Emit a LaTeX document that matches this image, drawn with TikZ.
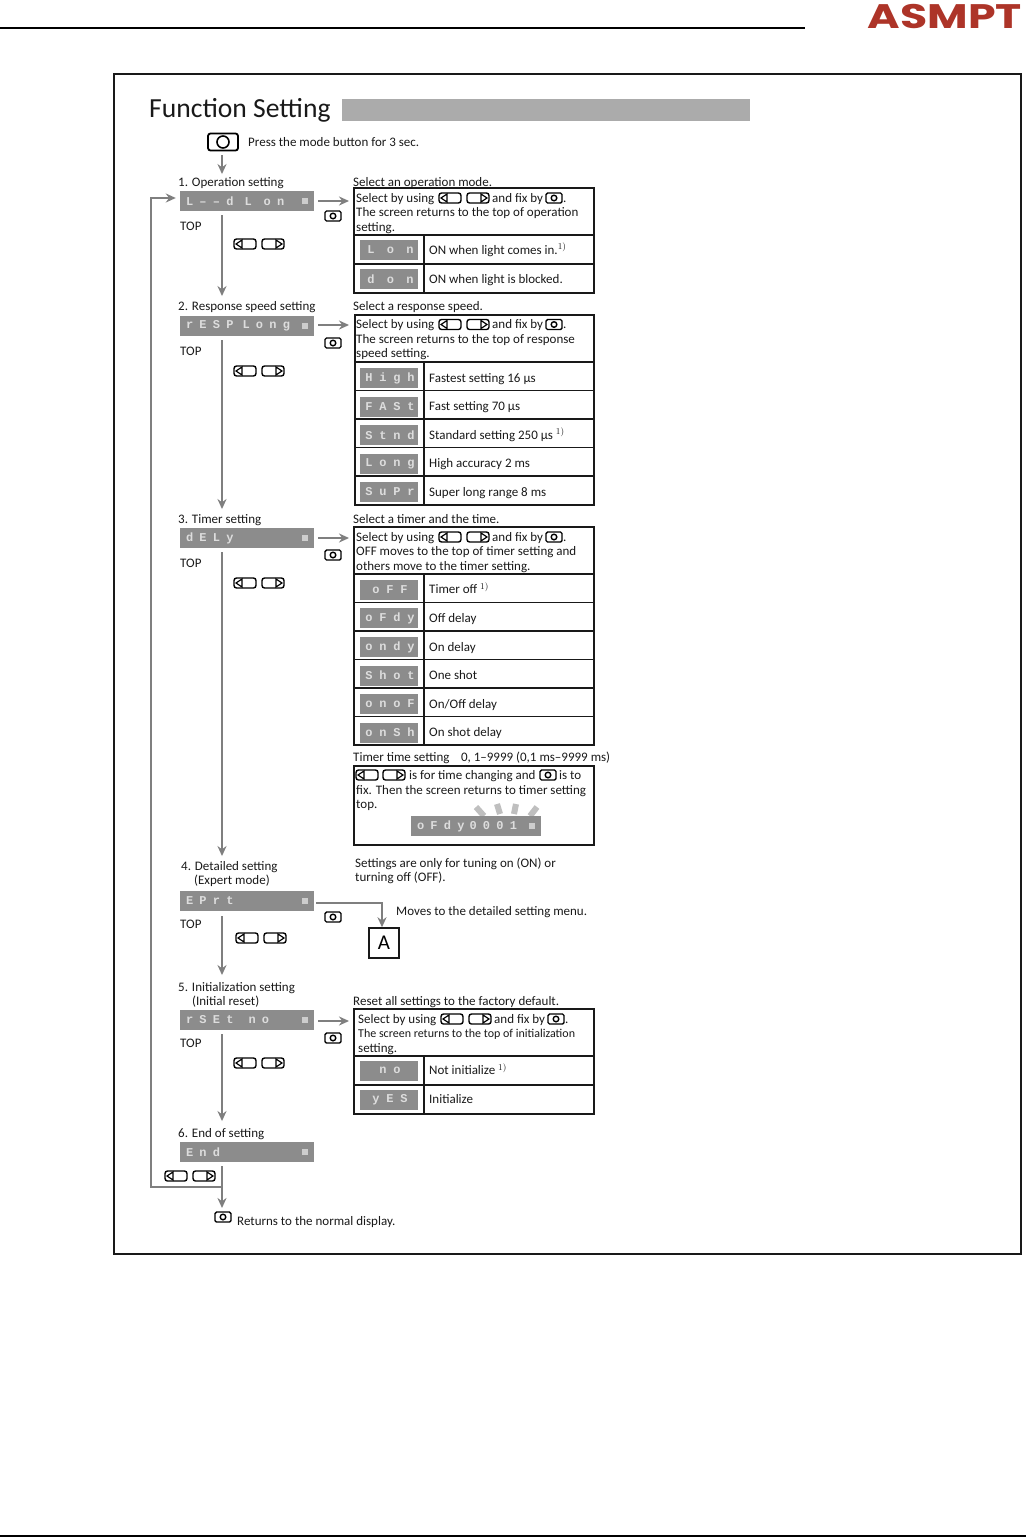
\documentclass[tikz,border=0pt]{standalone}
\usepackage{fontspec}
\setmainfont{Carlito}
\newfontfamily\dispfont[LetterSpace=52]{Liberation Mono}
\newfontfamily\rowfont[LetterSpace=57]{Liberation Mono}
\newfontfamily\widefont[LetterSpace=103]{Liberation Mono}
\newfontfamily\logofont{Poppins}
\usetikzlibrary{arrows.meta}
\definecolor{dispgray}{HTML}{8C8C8C}
\definecolor{flowgray}{HTML}{7F7F7F}
\definecolor{dispink}{HTML}{DDDDDD}
\definecolor{logored}{HTML}{AD3428}
\begin{document}
\begin{tikzpicture}[
    x=1pt, y=-1pt,
    txt/.style={anchor=west, inner sep=0pt, text height=11pt, text depth=2.5pt,
                font=\fontsize{13}{15}\selectfont, text=black!90},
    disp/.style={fill=dispgray, text=dispink, minimum width=134pt, minimum height=20pt,
                 inner sep=0pt, inner xsep=6pt, text width=122pt, align=left,
                 font=\dispfont\bfseries\fontsize{12}{14}\selectfont},
    disprow/.style={fill=dispgray, text=dispink, minimum width=58pt, minimum height=20pt,
                 inner sep=0pt, font=\rowfont\bfseries\fontsize{12}{14}\selectfont},
    dispwide/.style={disprow, font=\widefont\bfseries\fontsize{12}{14}\selectfont},
    dispdot/.style={fill=dispink!80!dispgray, minimum size=6pt, inner sep=0pt},
    flow/.style={-{Stealth[length=10pt,width=9pt]}, line width=2.5pt, color=flowgray},
    tab/.style={draw=black!90, line width=1.5pt},
    keymode/.pic={
      \draw[line width=1.4pt, rounded corners=1.5pt] (-8,-5) rectangle (8,5);
      \draw[line width=1.4pt] (0,0) circle (2.8pt);
    },
    keyleft/.pic={
      \draw[line width=1.4pt, rounded corners=2.5pt] (-11,-5) rectangle (11,5);
      \draw[line width=1.2pt, fill=white] (-3,-4) -- (-9,0) -- (-3,4) -- cycle;
    },
    keyright/.pic={
      \draw[line width=1.4pt, rounded corners=2.5pt] (-11,-5) rectangle (11,5);
      \draw[line width=1.2pt, fill=white] (3,-4) -- (9,0) -- (3,4) -- cycle;
    }
  ]
  \useasboundingbox (0,0) rectangle (1026,1537);
  \coordinate (vx) at (222,0);
  % Page furniture
  \coordinate (ruleA) at (0,28);
  \coordinate (ruleB) at (805,28);
  \coordinate (ruleC) at (0,1536);
  \coordinate (ruleD) at (1026,1536);
  \draw[line width=2pt] (ruleA) -- (ruleB);
  \draw[line width=2pt] (ruleC) -- (ruleD);
  \node[inner sep=0pt, text=logored, xscale=1.3, font=\logofont\bfseries\fontsize{34}{34}\selectfont]
    (logo) at (945,17) {ASMPT};
  \draw[line width=2pt, draw=black!90] (114,74) rectangle (1021,1254);
  % Title
  \node[txt, text height=20pt, text depth=6pt, font=\fontsize{27.6}{30}\selectfont] (title) at (149,110) {Function Setting};
  \fill[black!33] (342,99) rectangle (750,121);
  % Mode button and start
  \node[draw, line width=1.8pt, rounded corners=2.5pt, minimum width=30pt, minimum height=17pt, inner sep=0pt]
    (bigkey) at (223,142) {};
  \node[draw, circle, line width=1.6pt, minimum size=12pt, inner sep=0pt] (bigdot) at (bigkey) {};
  \node[txt] (press) at (248,142) {Press the mode button for 3 sec.};
  % Step labels
  \foreach \name/\xpos/\ypos/\lab in {
      labOne/178/182/{1. Operation setting}, labTwo/178/306/{2. Response speed setting},
      labThree/178/519/{3. Timer setting}, labFour/181/866/{4. Detailed setting},
      labFourB/194/880/{(Expert mode)}, labFive/178/987/{5. Initialization setting},
      labFiveB/192/1001/{(Initial reset)}, labSix/178/1133/{6. End of setting}}{
    \node[txt] (\name) at (\xpos,\ypos) {\lab};
  }
  % Main displays
  \foreach \name/\ypos/\disptext in {
      dOne/201/{L––d\kern11pt L\kern12pt on}, dTwo/326/{rESP\kern9pt Long}, dThree/538/{dELy},
      dFour/901/{EPrt}, dFive/1020/{rSEt\kern15pt no}, dSix/1152/{End}}{
    \node[disp] (\name) at (247,\ypos) {\disptext};
    \node[dispdot] (\name dot) at (304.5,\ypos) {};
  }
  % TOP marks
  \foreach \name/\ypos in {topOne/226, topTwo/351, topThree/563, topFour/924, topFive/1043}{
    \node[txt] (\name) at (180,\ypos) {TOP};
  }
  % Vertical flow
  \draw[flow] ([yshift=-4pt]bigkey.south -| vx) -- ([yshift=1pt]labOne.north -| vx);
  \draw[flow] ([yshift=-4pt]dOne.south -| vx) -- ([yshift=3pt]labTwo.north -| vx);
  \draw[flow] ([yshift=-4pt]dTwo.south -| vx) -- ([yshift=3pt]labThree.north -| vx);
  \draw[flow] ([yshift=-4pt]dThree.south -| vx) -- ([yshift=3pt]labFour.north -| vx);
  \draw[flow] ([yshift=-5pt]dFour.south -| vx) -- ([yshift=5pt]labFive.north -| vx);
  \draw[flow] ([yshift=-4pt]dFive.south -| vx) -- ([yshift=5pt]labSix.north -| vx);
  % Return and loop back
  \node[txt] (back) at (237,1221) {Returns to the normal display.};
  \coordinate (retEnd) at (222,1208);
  \coordinate (loopA) at (222,1187);
  \coordinate (loopB) at (151,1187);
  \coordinate (loopC) at (151,198);
  \draw[flow] ([yshift=-4pt]dSix.south -| vx) -- (retEnd);
  \draw[flow] (loopA) -- (loopB) -- (loopC) -- ([xshift=-4pt,yshift=3pt]dOne.west);
  % Right flow
  \foreach \src/\ypos in {dOne/201, dTwo/325, dThree/538, dFive/1021}{
    \coordinate (\src end) at (349,\ypos);
    \draw[flow] ([xshift=4pt]\src.east |- \src end) -- (\src end);
  }
  \node[draw=black!90, line width=1.5pt, minimum size=30pt, inner sep=0pt, font=\fontsize{21}{24}\selectfont] (boxA) at (384,943) {A};
  \coordinate (elbow) at (382,903);
  \draw[flow] ([xshift=2pt]dFour.east |- elbow) -- (elbow) -- (elbow |- boxA.north);
  \node[txt] (moves) at (396,911) {Moves to the detailed setting menu.};
  % Keys
  \foreach \xpos/\ypos in {245/244, 245/371, 245/583, 247/938, 245/1063, 176/1176}{
    \pic at (\xpos,\ypos) {keyleft};
    \pic at (\xpos+28,\ypos) {keyright};
  }
  \foreach \xpos/\ypos in {333/216, 333/343, 333/555, 333/917, 333/1038, 223/1217}{
    \pic at (\xpos,\ypos) {keymode};
  }
  % Headings right
  \foreach \name/\xpos/\ypos/\lab in {
      selOne/353/182/{Select an operation mode.}, selTwo/353/306/{Select a response speed.},
      selThree/353/519/{Select a timer and the time.},
      selFour/353/757/{Timer time setting\enspace\, 0, 1–9999 (0,1 ms–9999 ms)},
      selFive/353/1001/{Reset all settings to the factory default.},
      noteA/355/863/{Settings are only for tuning on (ON) or}, noteB/355/877/{turning off (OFF).}}{
    \node[txt] (\name) at (\xpos,\ypos) {\lab};
  }
  % Table frames
  \draw[tab] (354,188) rectangle (594,293) (354,235) -- (594,235) (354,264) -- (594,264) (424,235) -- (424,293);
  \draw[tab] (355,315) rectangle (594,505) (355,362) -- (594,362) (424,362) -- (424,505);
  \foreach \ypos in {390.5,419,447.5,476}{ \draw[tab] (355,\ypos) -- (594,\ypos); }
  \draw[tab] (354,527) rectangle (594,745) (354,574) -- (594,574) (424,574) -- (424,745);
  \foreach \ypos in {602.5,631,659.5,688,716.5}{ \draw[tab] (354,\ypos) -- (594,\ypos); }
  \draw[tab] (354,766) rectangle (594,845);
  \draw[tab] (354,1009) rectangle (594,1114) (354,1056) -- (594,1056) (354,1085) -- (594,1085) (424,1056) -- (424,1114);
  % Table heads
  \foreach \tname/\xpos/\ypos/\linetwo/\linethree in {
      tOne/356/198/{The screen returns to the top of operation}/{setting.},
      tTwo/356/324.5/{The screen returns to the top of response}/{speed setting.},
      tThree/356/537/{OFF moves to the top of timer setting and}/{others move to the timer setting.},
      tFive/358/1019/{\fontsize{12}{14}\selectfont The screen returns to the top of initialization}/{setting.}}{
    \node[txt] (\tname a) at (\xpos,\ypos) {Select by using};
    \node[txt] (\tname b) at (\xpos+136,\ypos) {and fix by};
    \node[txt] (\tname c) at (\xpos,\ypos+14.5) {\linetwo};
    \node[txt] (\tname d) at (\xpos,\ypos+29) {\linethree};
    \pic at (\xpos+94,\ypos) {keyleft};
    \pic at (\xpos+122,\ypos) {keyright};
    \pic at (\xpos+198,\ypos) {keymode};
    \node[txt] (\tname e) at (\xpos+207,\ypos) {.};
  }
  % Table rows
  \foreach \ypos/\rowtext/\desc in {
      378/High/{Fastest setting 16 µs}, 406.5/FASt/{Fast setting 70 µs},
      435/Stnd/{Standard setting 250 µs $^{1)}$}, 463.5/Long/{High accuracy 2 ms},
      492/SuPr/{Super long range 8 ms},
      589.5/oFF/{Timer off $^{1)}$}, 618/oFdy/{Off delay}, 647/ondy/{On delay},
      675.5/Shot/{One shot}, 704/onoF/{On/Off delay}, 732.5/onSh/{On shot delay},
      1070.5/no/{Not initialize $^{1)}$}, 1099.5/yES/{Initialize}}{
    \node[disprow] (row\rowtext) at (389,\ypos) {\rowtext\kern-2pt};
    \node[txt] (desc\rowtext) at (429,\ypos) {\desc};
  }
  \foreach \ypos/\rowtext/\desc in {
      250/Lon/{ON when light comes in.$^{1)}$}, 279/don/{ON when light is blocked.}}{
    \node[dispwide] (row\rowtext) at (389,\ypos) {\rowtext\kern-3pt};
    \node[txt] (desc\rowtext) at (429,\ypos) {\desc};
  }
  % Timer time box
  \pic at (367,775) {keyleft};
  \pic at (394,775) {keyright};
  \pic at (548,775) {keymode};
  \node[txt] (timeA) at (409,775) {is for time changing and};
  \node[txt] (timeB) at (559,775) {is to};
  \node[txt] (timeC) at (356,790) {fix. Then the screen returns to timer setting};
  \node[txt] (timeD) at (356,804) {top.};
  \foreach \xa/\ya/\xb/\yb in {476/807/484/816, 497/804/500/814, 516/804/514/814, 537/807/530/816}{
    \draw[line width=6pt, black!25] (\xa,\ya) -- (\xb,\yb);
  }
  \node[disp, minimum width=130pt, text width=118pt] (dTime) at (476,826) {oFdy\kern5pt 0001};
  \node[dispdot] (dTimedot) at (531.5,826) {};
\end{tikzpicture}
\end{document}
